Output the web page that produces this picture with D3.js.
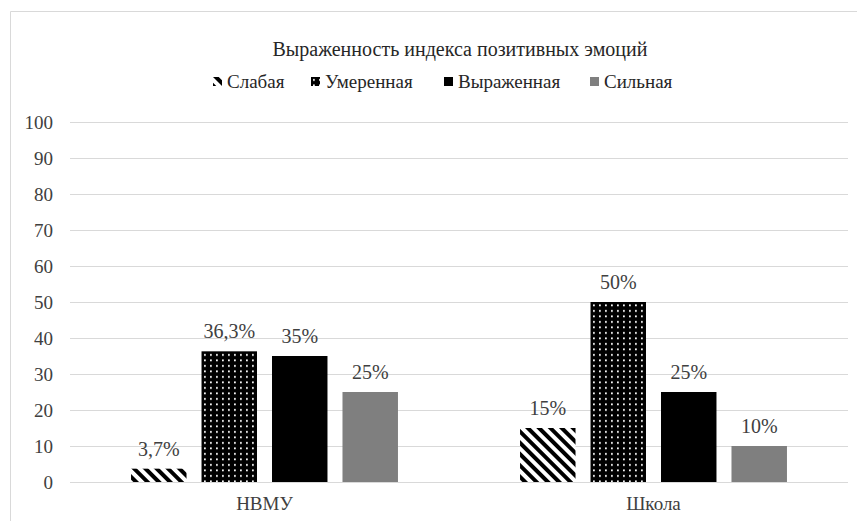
<!DOCTYPE html>
<html>
<head>
<meta charset="utf-8">
<script src="https://cdn.jsdelivr.net/npm/d3@7"></script>
<style>
  body { margin: 0; background: #fff; }
  svg { display: block; }
</style>
</head>
<body>
<svg width="857" height="521"></svg>
<script>
// data
const categories = ["НВМУ", "Школа"];
const seriesNames = ["Слабая", "Умеренная", "Выраженная", "Сильная"];
const nvmuValues = [3.7, 36.3, 35, 25];
const shkolaValues = [15, 50, 25, 10];
const valueLabels = [["3,7%", "36,3%", "35%", "25%"], ["15%", "50%", "25%", "10%"]];
const yTicks = [0, 10, 20, 30, 40, 50, 60, 70, 80, 90, 100];
const title = "Выраженность индекса позитивных эмоций";

const FONT = "'Liberation Serif', 'Times New Roman', serif";

const rows = categories.map((c, i) => ({
	cat: c,
	values: (i === 0 ? nvmuValues : shkolaValues).map((v, j) => ({
		key: seriesNames[j], value: v, label: valueLabels[i][j]
	}))
}));

var svg = d3.select("svg"),
	width = 857,
	height = 521,
	margin = { left: 70, right: 9, top: 122, bottom: 39 },
	defs = svg.append("defs");

// fill patterns
defs.append("pattern")
	.attr("id", "hatch")
	.attr("patternUnits", "userSpaceOnUse")
	.attr("width", 8).attr("height", 8)
	.attr("patternTransform", "rotate(-45)")
	.call(p => {
		p.append("rect").attr("width", 8).attr("height", 8).attr("fill", "#fff");
		p.append("rect").attr("width", 4).attr("height", 8).attr("fill", "#000");
	});
defs.append("pattern")
	.attr("id", "dots")
	.attr("patternUnits", "userSpaceOnUse")
	.attr("width", 6).attr("height", 5.5)
	.call(p => {
		p.append("rect").attr("width", 6).attr("height", 5.5).attr("fill", "#000");
		p.append("rect").attr("x", 2).attr("y", 2).attr("width", 1.8).attr("height", 1.8).attr("fill", "#fff");
	});

var fills = d3.scaleOrdinal()
	.domain(seriesNames)
	.range(["url(#hatch)", "url(#dots)", "#000", "#7f7f7f"]);

// frame
svg.append("path")
	.attr("d", "M10.5," + height + " V11.5 H" + width)
	.attr("fill", "none")
	.attr("stroke", "#d9d9d9");

var x0 = d3.scaleBand()
	.domain(categories)
	.range([margin.left, width - margin.right]);

var x1 = d3.scaleBand()
	.domain(seriesNames)
	.range([0, x0.bandwidth()])
	.paddingInner(0.213)
	.paddingOuter(0.866);

var y = d3.scaleLinear()
	.domain([0, 100])
	.range([height - margin.bottom, margin.top]);

// gridlines
svg.append("g")
	.selectAll("line")
	.data(yTicks)
	.join("line")
	.attr("x1", margin.left)
	.attr("x2", width - margin.right)
	.attr("y1", d => Math.round(y(d)) + 0.5)
	.attr("y2", d => Math.round(y(d)) + 0.5)
	.attr("stroke", "#d9d9d9");

// y axis labels
var yAxis = svg.append("g")
	.attr("transform", "translate(" + (margin.left - 17) + ",0)")
	.call(d3.axisLeft(y).tickValues(yTicks).tickSize(0).tickPadding(0));
yAxis.select(".domain").remove();
yAxis.selectAll("text")
	.style("font-family", FONT)
	.style("font-size", "19px")
	.attr("fill", "#404040");

// x axis labels
var xAxis = svg.append("g")
	.attr("transform", "translate(0," + (height - margin.bottom) + ")")
	.call(d3.axisBottom(x0).tickSize(0).tickPadding(15));
xAxis.select(".domain").remove();
xAxis.selectAll("text")
	.style("font-family", FONT)
	.style("font-size", "19px")
	.attr("fill", "#404040");

// bars
var groups = svg.append("g")
	.selectAll("g")
	.data(rows)
	.join("g")
	.attr("transform", d => "translate(" + x0(d.cat) + ",0)");

groups.selectAll("rect")
	.data(d => d.values)
	.join("rect")
	.attr("x", d => x1(d.key))
	.attr("y", d => y(d.value))
	.attr("width", x1.bandwidth())
	.attr("height", d => y(0) - y(d.value))
	.attr("fill", d => fills(d.key));

groups.selectAll("text")
	.data(d => d.values)
	.join("text")
	.attr("x", d => x1(d.key) + x1.bandwidth() / 2)
	.attr("y", d => y(d.value) - 13)
	.attr("text-anchor", "middle")
	.style("font-family", FONT)
	.style("font-size", "20px")
	.attr("fill", "#404040")
	.text(d => d.label);

// title
svg.append("text")
	.attr("x", 460)
	.attr("y", 56)
	.attr("text-anchor", "middle")
	.style("font-family", FONT)
	.style("font-size", "20px")
	.attr("fill", "#262626")
	.text(title);

// legend
var legendX = [213, 311, 444, 590];
var legend = svg.append("g")
	.selectAll("g")
	.data(seriesNames)
	.join("g")
	.attr("transform", (d, i) => "translate(" + legendX[i] + ",77)");
legend.append("rect")
	.attr("width", 9).attr("height", 9)
	.attr("fill", d => fills(d));
legend.append("text")
	.attr("x", 14)
	.attr("y", 11)
	.style("font-family", FONT)
	.style("font-size", "19px")
	.attr("fill", "#262626")
	.text(d => d);
</script>
</body>
</html>
